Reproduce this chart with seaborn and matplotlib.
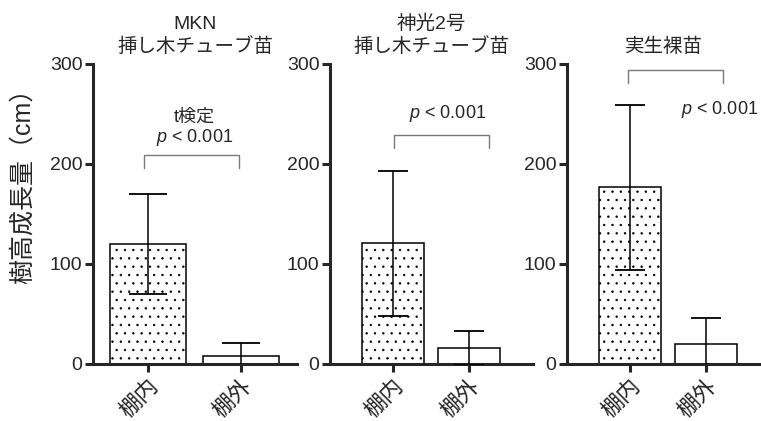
import numpy as np
import seaborn as sns
import matplotlib
matplotlib.use("Agg")
import matplotlib.pyplot as plt

groups = ["棚内", "棚外"]
titles = ["MKN\n挿し木チューブ苗", "神光2号\n挿し木チューブ苗", "実生裸苗"]
mkn_mean = [120, 8]
mkn_sd = [50, 13]
shinko_mean = [121, 16]
shinko_sd = [72.5, 17]
seedling_mean = [177, 20]
seedling_sd = [82.5, 26]
ylabel = "樹高成長量（cm）"
p_text = "$p$ < 0.001"

sns.set_style("ticks")
plt.rcParams["font.family"] = ["Liberation Sans", "Noto Sans CJK JP"]
plt.rcParams["mathtext.fontset"] = "custom"
plt.rcParams["mathtext.it"] = "Liberation Sans:italic"
plt.rcParams["mathtext.rm"] = "Liberation Sans"
plt.rcParams["hatch.linewidth"] = 0.5

fig = plt.figure(figsize=(7.61, 4.21), dpi=100)
W, H = 761, 421
# axes boxes in pixels: left, right
boxes = [(93, 297), (330, 533), (567, 761)]
xlims = [(-0.59, 1.60), (-0.83, 1.84), (-0.83, 1.72)]
means = [mkn_mean, shinko_mean, seedling_mean]
sds = [mkn_sd, shinko_sd, seedling_sd]
caps = [13.5, 11, 11]

axes = []
for i in range(3):
    l, r = boxes[i]
    ax = fig.add_axes([l / W, (H - 364) / H, (r - l) / W, 300 / H])
    sns.barplot(x=groups, y=means[i], ax=ax, color="white", edgecolor="black",
                linewidth=1.1, width=0.82, saturation=1)
    ax.patches[0].set_hatch("..")
    ax.errorbar([0, 1], means[i], yerr=sds[i], fmt="none", ecolor="black",
                elinewidth=1.1, capsize=caps[i], capthick=1.3, zorder=5)
    ax.set_xlim(*xlims[i])
    ax.set_ylim(0, 300)
    ax.set_yticks([0, 100, 200, 300])
    sns.despine(ax=ax)
    for s in ["left", "bottom"]:
        ax.spines[s].set_linewidth(2.2)
    ax.tick_params(axis="y", width=2.2, length=5.5, pad=2, labelsize=14)
    ax.tick_params(axis="x", width=2.2, length=5.5, pad=3, labelsize=16)
    plt.setp(ax.get_xticklabels(), rotation=45, ha="right", rotation_mode="anchor")
    ax.set_xlabel("")
    ax.set_ylabel("")
    ax.set_title(titles[i], fontsize=14, pad=9, linespacing=1.25)
    axes.append(ax)

# significance brackets
def bracket(ax, x0, x1, y, leg):
    ax.plot([x0, x0, x1, x1], [y - leg, y, y, y - leg], color="#7a7a7a",
            lw=1.0, clip_on=False, zorder=6)

bracket(axes[0], -0.04, 0.98, 209, 13)
axes[0].text(0.5, 216, "t検定\n" + p_text, ha="center", va="bottom", fontsize=13,
             linespacing=1.1)
bracket(axes[1], 0.01, 1.26, 229, 13)
axes[1].text(0.72, 251, p_text, ha="center", va="center", fontsize=13)
bracket(axes[2], -0.03, 1.22, 294, 13)
axes[2].text(1.18, 254, p_text, ha="center", va="center", fontsize=13)

fig.text(23 / W, (H - 180) / H, ylabel, rotation=90, ha="center", va="center",
         fontsize=18)

fig.savefig("out.png", dpi=100)
